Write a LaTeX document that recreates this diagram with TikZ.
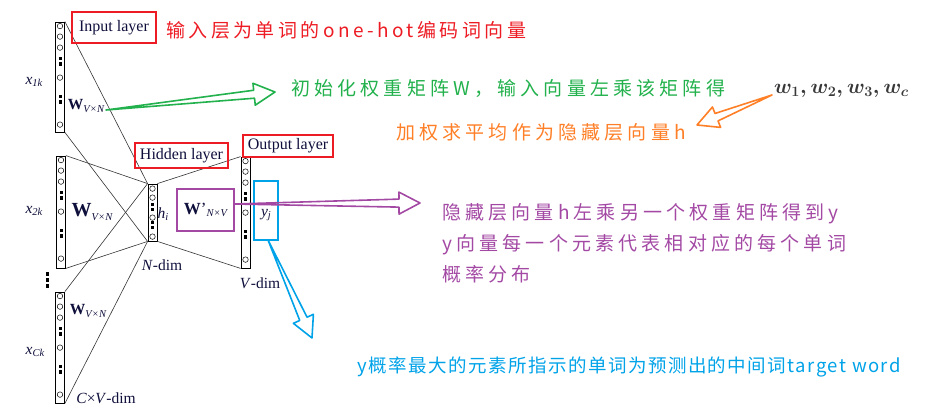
\documentclass[tikz,border=0pt]{standalone}
\usepackage{fontspec}
\usepackage{tikz}
\usetikzlibrary{calc}
\setmainfont{Liberation Serif}
\newfontfamily\cjk[LetterSpace=22]{Noto Sans CJK SC}
\definecolor{pred}{RGB}{237,28,36}
\definecolor{pgreen}{RGB}{34,177,76}
\definecolor{porange}{RGB}{255,127,39}
\definecolor{ppurple}{RGB}{163,73,164}
\definecolor{pblue}{RGB}{0,162,232}
\definecolor{ink}{RGB}{15,15,60}

% small italic subscript for the layer labels
\newcommand{\sub}[1]{\raisebox{-0.35ex}{\fontsize{10.5}{10.5}\selectfont\itshape #1}}
% hand drawn hollow arrow from #2 to #3
\newcommand{\hollowarrow}[3]{%
  \draw[#1, line width=1.6pt, line join=round]
    let \p1=(#2), \p2=(#3), \n1={atan2(\y2-\y1,\x2-\x1)}, \n2={veclen(\x2-\x1,\y2-\y1)}
    in [shift={(\p1)}, rotate=\n1]
    (0,0) -- (\n2-21,4) -- (\n2-21,11) -- (\n2,0) -- (\n2-21,-11) -- (\n2-21,-4) -- cycle;}

\begin{document}
\begin{tikzpicture}[x=1pt, y=-1pt,
    col/.style={draw, line width=0.8pt, minimum width=9pt, inner sep=0pt},
    unit/.style={circle, draw, line width=0.5pt, minimum size=5.5pt, inner sep=0pt},
    blk/.style={fill=black, minimum width=3pt, minimum height=3.5pt, inner sep=0pt},
    wire/.style={line width=0.6pt, black!80},
    tag/.style={draw=pred, line width=2pt, inner sep=0pt, text=ink, font=\fontsize{16}{18}\selectfont},
    lab/.style={inner sep=0pt, text=ink, font=\fontsize{15.5}{18}\selectfont},
    note/.style={inner sep=0pt, anchor=west, font=\cjk\fontsize{19}{31}\selectfont}]
  \useasboundingbox (0,0) rectangle (932,414);

  % columns of units
  \node [col, minimum height=110pt] (in1) at (60,77) {};
  \node [col, minimum height=112pt] (in2) at (61,212) {};
  \node [col, minimum height=111pt] (in3) at (60,347.5) {};
  \node [col, minimum height=57pt] (hid) at (152.5,212.5) {};
  \node [col, minimum height=111pt] (outl) at (245.5,212.5) {};

  \foreach \c in {in1,in2,in3,outl} {
    \foreach \d in {4.5,15,26,56,103}
      \node [unit] at ([yshift=-\d pt]\c.north) {};
    \foreach \d in {37,42.5,75,80.5}
      \node [blk] at ([yshift=-\d pt]\c.north) {};
  }
  \foreach \d in {5,14,34,53}
    \node [unit] at ([yshift=-\d pt]hid.north) {};
  \foreach \d in {21,26,39,44}
    \node [blk] at ([yshift=-\d pt]hid.north) {};
  \foreach \d in {274,280,286}
    \node [blk] at (47,\d) {};

  % weights
  \draw [wire] (in1.north east) -- (hid.north west);
  \draw [wire] (in1.south east) -- (hid.south west);
  \draw [wire] (in2.north east) -- (hid.north west);
  \draw [wire] (in2.south east) -- (hid.south west);
  \draw [wire] (in3.north east) -- (hid.north west);
  \draw [wire] (in3.south east) -- (hid.south west);
  \draw [wire] (hid.north east) -- (outl.north west);
  \draw [wire] (hid.south east) -- (outl.south west);

  % labels
  \node [lab] (x1) at (34,82) {\textit{x}\sub{1k}};
  \node [lab] (x2) at (34,211) {\textit{x}\sub{2k}};
  \node [lab] (xc) at (35,352) {\textit{x}\sub{Ck}};
  \node [lab] (w1) at (86,106) {\textbf{W}\sub{V×N}};
  \node [lab, font=\fontsize{20}{22}\selectfont] (w2) at (92,212) {\textbf{W}\sub{V×N}};
  \node [lab] (w3) at (88,311) {\textbf{W}\sub{V×N}};
  \node [lab] (hi) at (163,214) {\textit{h}\sub{i}};
  \node [lab] (ndim) at (162,265) {\textit{N}-dim};
  \node [lab] (vdim) at (260,283) {\textit{V}-dim};
  \node [lab] (cvdim) at (106,398) {\textit{C}×\textit{V}-dim};

  \node [tag, minimum width=84pt, minimum height=31pt] (inlab) at (114,27.5) {Input layer};
  \node [tag, minimum width=93pt, minimum height=25pt] (hidlab) at (181.5,155.5) {Hidden layer};
  \node [tag, minimum width=90pt, minimum height=22pt] (outlab) at (288,146) {Output layer};
  \node [draw=ppurple, line width=2pt, minimum width=57pt, minimum height=42pt, lab,
         font=\fontsize{17}{20}\selectfont] (wbox) at (205.5,210) {\textbf{W}'\sub{N×V}};
  \node [draw=pblue, line width=2pt, minimum width=24pt, minimum height=59pt] (ybox) at (266,210.5) {};
  \node [lab] (yj) at (266,215) {\textit{y}\sub{j}};

  % notes
  \node [note, text=pred, font=\cjk\addfontfeatures{LetterSpace=18}\fontsize{19}{31}\selectfont] (t1) at (166,30) {输入层为单词的one-hot编码词向量};
  \node [note, text=pgreen] (t2) at (291,88) {初始化权重矩阵W，输入向量左乘该矩阵得};
  \node [inner sep=0pt, anchor=west, text=black!78, font=\fontsize{22.5}{26}\selectfont\boldmath] (ws) at (774,91) {$w_1, w_2, w_3, w_c$};
  \node [note, text=porange] (t3) at (396,132) {加权求平均作为隐藏层向量h};
  \node [note, text=ppurple, align=left] (t4) at (442,243) {隐藏层向量h左乘另一个权重矩阵得到y\\y向量每一个元素代表相对应的每个单词\\概率分布};
  \node [note, text=pblue, font=\cjk\addfontfeatures{LetterSpace=8}\fontsize{18.5}{31}\selectfont] (t5) at (357,367) {y概率最大的元素所指示的单词为预测出的中间词target word};

  % arrows
  \coordinate (gtail) at (106,110);
  \coordinate (gtip) at (275,92);
  \coordinate (otail) at (772,95);
  \coordinate (otip) at (697,125);
  \coordinate (ptail) at (234,204);
  \coordinate (ptip) at (420,203);
  \coordinate (ctail) at (268,240);
  \coordinate (ctip) at (312,338);
  \hollowarrow{pgreen}{gtail}{gtip}
  \hollowarrow{porange}{otail}{otip}
  \hollowarrow{ppurple}{ptail}{ptip}
  \hollowarrow{pblue}{ctail}{ctip}
\end{tikzpicture}
\end{document}
